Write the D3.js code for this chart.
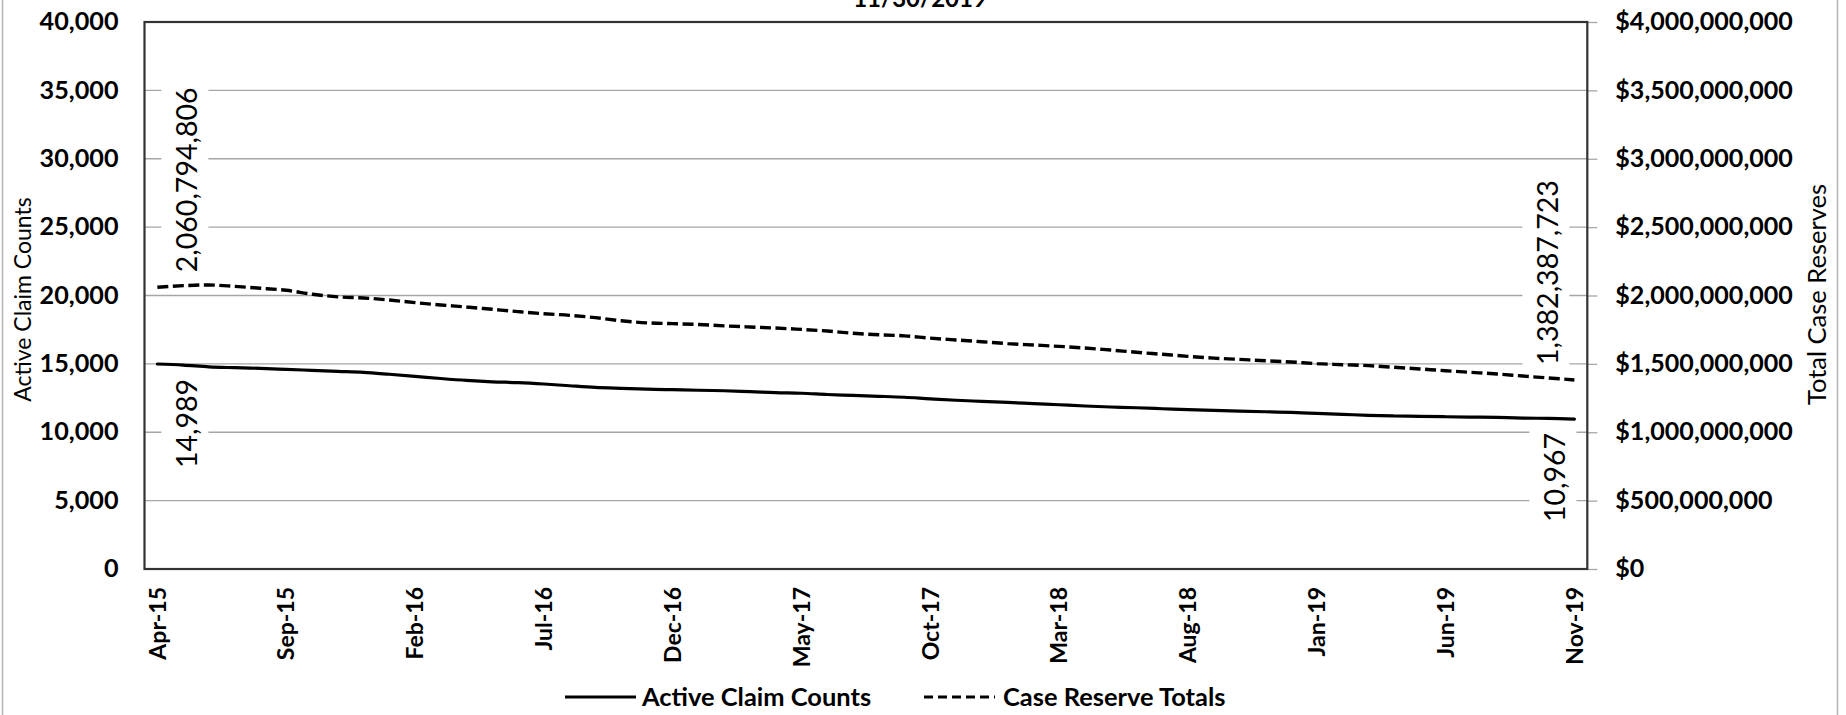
<!DOCTYPE html>
<html>
<head>
<meta charset="utf-8">
<script src="https://cdn.jsdelivr.net/npm/d3@7"></script>
<style>
  html, body { margin: 0; padding: 0; background: #fff; }
  svg { display: block; font-family: Lato, "Open Sans", "Liberation Sans", sans-serif; }
</style>
</head>
<body>
<svg id="chart" width="1846" height="715"></svg>
<script>
// ---------------- DATA ----------------
const chartTitle = "11/30/2019";
const months = ["Apr-15","May-15","Jun-15","Jul-15","Aug-15","Sep-15","Oct-15","Nov-15","Dec-15",
  "Jan-16","Feb-16","Mar-16","Apr-16","May-16","Jun-16","Jul-16","Aug-16","Sep-16","Oct-16","Nov-16","Dec-16",
  "Jan-17","Feb-17","Mar-17","Apr-17","May-17","Jun-17","Jul-17","Aug-17","Sep-17","Oct-17","Nov-17","Dec-17",
  "Jan-18","Feb-18","Mar-18","Apr-18","May-18","Jun-18","Jul-18","Aug-18","Sep-18","Oct-18","Nov-18","Dec-18",
  "Jan-19","Feb-19","Mar-19","Apr-19","May-19","Jun-19","Jul-19","Aug-19","Sep-19","Oct-19","Nov-19"];
const xTickLabels = ["Apr-15","Sep-15","Feb-16","Jul-16","Dec-16","May-17","Oct-17","Mar-18","Aug-18","Jan-19","Jun-19","Nov-19"];

const activeClaimCounts = [14989,14912,14780,14720,14670,14600,14525,14450,14376,14240,14090,13930,13790,13690,
  13630,13530,13400,13280,13210,13150,13110,13070,13036,12970,12900,12850,12760,12690,
  12630,12560,12440,12340,12260,12180,12090,12010,11920,11845,11790,11720,11650,11600,
  11550,11500,11450,11380,11310,11240,11190,11160,11135,11110,11085,11040,11010,10967];

const caseReserveTotals = [2060794806,2072000000,2077000000,2067000000,2053000000,2038000000,2010000000,1990000000,
  1982000000,1967000000,1948000000,1931000000,1916000000,1899000000,1882000000,1867000000,1855000000,1838000000,
  1815000000,1800000000,1794000000,1788000000,1778000000,1770000000,1762000000,1752000000,1740000000,1724000000,
  1713000000,1705000000,1688000000,1675000000,1662000000,1648000000,1638000000,1628000000,1616000000,1601000000,
  1585000000,1570000000,1555000000,1542000000,1533000000,1523000000,1514000000,1502000000,1494000000,1487000000,
  1475000000,1463000000,1450000000,1438000000,1426000000,1411000000,1397000000,1382387723];

const leftTicks = [0,5000,10000,15000,20000,25000,30000,35000,40000];
const rightTicks = [0,500000000,1000000000,1500000000,2000000000,2500000000,3000000000,3500000000,4000000000];
const leftAxisTitle = "Active Claim Counts";
const rightAxisTitle = "Total Case Reserves";
const seriesNames = ["Active Claim Counts","Case Reserve Totals"];

// ---------------- LAYOUT ----------------
const svg = d3.select("#chart");
const P = { left: 144.5, right: 1587.3, top: 22, bottom: 569 };

const x = d3.scaleBand().domain(months).range([P.left, P.right]).paddingInner(0).paddingOuter(0);
const cx = d => x(d) + x.bandwidth() / 2;
const yL = d3.scaleLinear().domain([0, 40000]).range([P.bottom, P.top]);
const yR = d3.scaleLinear().domain([0, 4000000000]).range([P.bottom, P.top]);
const fmt = d3.format(",");

// outer chart-area border
svg.append("rect").attr("x", 2.5).attr("y", -30).attr("width", 1835).attr("height", 780)
  .attr("fill", "#fff").attr("stroke", "#b4b4b4").attr("stroke-width", 1.5);

// title (mostly cut off at top in the reference)
svg.append("text").attr("x", 920).attr("y", 6.5).attr("text-anchor", "middle")
  .attr("font-size", 24).attr("font-weight", 700).attr("fill", "#000").text(chartTitle);

// gridlines
svg.append("g").selectAll("line").data(leftTicks.filter(t => t > 0 && t < 40000)).join("line")
  .attr("x1", P.left).attr("x2", P.right)
  .attr("y1", d => yL(d)).attr("y2", d => yL(d))
  .attr("stroke", "#a6a6a6").attr("stroke-width", 1.3);

// horizontal stretch helper (Calibri-like proportions)
function stretch(sel, k) {
  sel.each(function () {
    const L = this.getComputedTextLength();
    d3.select(this).attr("textLength", L * k).attr("lengthAdjust", "spacingAndGlyphs");
  });
}

// left axis
const gL = svg.append("g").attr("transform", `translate(${P.left},0)`)
  .call(d3.axisLeft(yL).tickValues(leftTicks).tickSize(0).tickPadding(26).tickFormat(fmt));
gL.select(".domain").remove();
gL.selectAll("text").attr("font-size", 24).attr("font-weight", 700).attr("fill", "#000")
  .attr("font-family", "Lato, sans-serif");
stretch(gL.selectAll("text"), 1.05);

// right axis
const gR = svg.append("g").attr("transform", `translate(${P.right},0)`)
  .call(d3.axisRight(yR).tickValues(rightTicks).tickSize(10).tickPadding(18).tickFormat(d3.format("$,")));
gR.select(".domain").remove();
gR.selectAll("line").attr("stroke", "#a6a6a6").attr("stroke-width", 1.3);
gR.selectAll("text").attr("font-size", 24).attr("font-weight", 700).attr("fill", "#000")
  .attr("font-family", "Lato, sans-serif");
stretch(gR.selectAll("text"), 1.045);

// bottom axis
const gB = svg.append("g").attr("transform", `translate(0,${P.bottom})`)
  .call(d3.axisBottom(x).tickValues(xTickLabels).tickSize(0));
gB.select(".domain").remove();
gB.selectAll("text")
  .attr("transform", "rotate(-90)")
  .attr("x", -18).attr("y", 0).attr("dy", "0.36em")
  .style("text-anchor", "end")
  .attr("font-size", 23).attr("font-weight", 700).attr("fill", "#000")
  .attr("font-family", "Lato, sans-serif");

// axis titles
svg.append("text").attr("transform", `translate(23,${(P.top + P.bottom) / 2 + 4}) rotate(-90)`)
  .attr("text-anchor", "middle").attr("dy", "0.35em")
  .attr("font-size", 23).attr("fill", "#000").text(leftAxisTitle);
svg.append("text").attr("transform", `translate(1817,${(P.top + P.bottom) / 2 - 1}) rotate(-90)`)
  .attr("text-anchor", "middle").attr("dy", "0.35em")
  .attr("font-size", 25.5).attr("fill", "#000").text(rightAxisTitle);

// data labels (white boxes hide gridlines)
function dataLabel(value, gx, yBottom) {
  const g = svg.append("g").attr("transform", `translate(${gx},${yBottom}) rotate(-90)`);
  const rect = g.append("rect").attr("fill", "#fff");
  const t = g.append("text").attr("x", 0).attr("y", 0).attr("dy", "0.35em")
    .attr("text-anchor", "start").attr("font-size", 28.5).attr("fill", "#000").text(fmt(value));
  const L = t.node().getComputedTextLength();
  rect.attr("x", -6).attr("width", L + 12).attr("y", -26).attr("height", 47);
}
const n = months.length - 1;
dataLabel(caseReserveTotals[0], cx(months[0]) + 30, yR(caseReserveTotals[0]) - 15);
dataLabel(activeClaimCounts[0], cx(months[0]) + 30, yL(activeClaimCounts[0]) + 104);
dataLabel(caseReserveTotals[n], cx(months[n]) - 26, yR(caseReserveTotals[n]) - 15);
dataLabel(activeClaimCounts[n], cx(months[n]) - 19, yL(activeClaimCounts[n]) + 103);

// lines
const lineL = d3.line().x((d, i) => cx(months[i])).y(d => yL(d)).curve(d3.curveCatmullRom.alpha(0.5));
const lineR = d3.line().x((d, i) => cx(months[i])).y(d => yR(d)).curve(d3.curveCatmullRom.alpha(0.5));
svg.append("path").datum(activeClaimCounts).attr("d", lineL)
  .attr("fill", "none").attr("stroke", "#000").attr("stroke-width", 3.2).attr("stroke-linecap", "round");
svg.append("path").datum(caseReserveTotals).attr("d", lineR)
  .attr("fill", "none").attr("stroke", "#000").attr("stroke-width", 3.4).attr("stroke-dasharray", "11,4.5");

// plot border
svg.append("rect").attr("x", P.left).attr("y", P.top).attr("width", P.right - P.left).attr("height", P.bottom - P.top)
  .attr("fill", "none").attr("stroke", "#333").attr("stroke-width", 2.2);

// legend
const legend = svg.append("g");
const legItems = [
  { name: seriesNames[0], x0: 565, x1: 636, tx: 642, dash: null },
  { name: seriesNames[1], x0: 924, x1: 995, tx: 1003, dash: "9,5" }
];
legItems.forEach(it => {
  legend.append("line").attr("x1", it.x0).attr("x2", it.x1).attr("y1", 697).attr("y2", 697)
    .attr("stroke", "#000").attr("stroke-width", 3.2).attr("stroke-dasharray", it.dash);
  const t = legend.append("text").attr("x", it.tx).attr("y", 697).attr("dy", "0.36em")
    .attr("font-size", 24).attr("font-weight", 700).attr("fill", "#000").text(it.name);
  stretch(t, 1.06);
});
</script>
</body>
</html>
